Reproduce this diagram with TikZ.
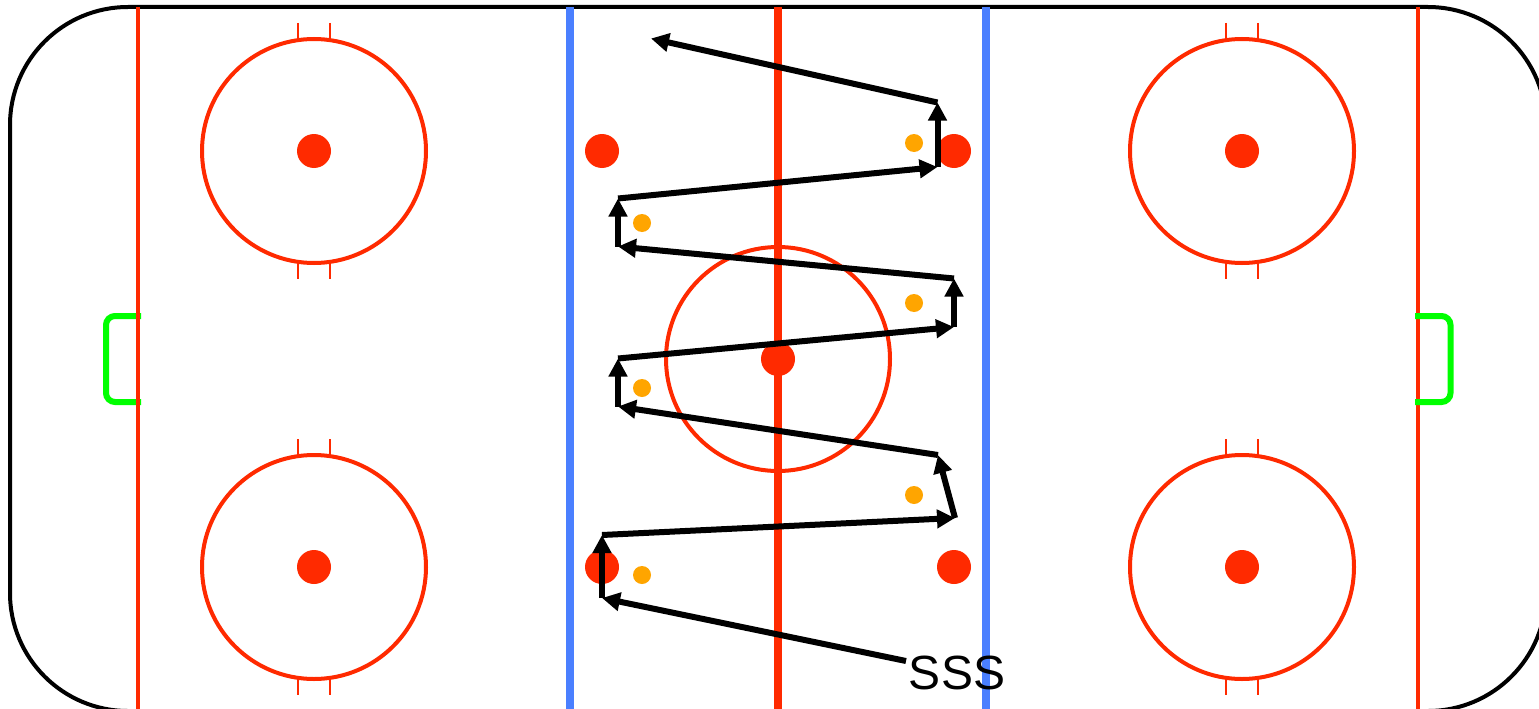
\documentclass[tikz,border=0pt]{standalone}
\usepackage{fontspec}
\setmainfont{Liberation Sans}
\usetikzlibrary{arrows.meta}
\definecolor{rinkred}{HTML}{FF2A00}
\definecolor{rinkblue}{HTML}{4A7FFF}
\definecolor{rinkgreen}{HTML}{00FF00}
\definecolor{puck}{HTML}{FFA500}
\tikzset{
  boards/.style={draw=black,line width=4pt,rounded corners=118pt},
  goalline/.style={draw=rinkred,line width=4pt},
  blueline/.style={draw=rinkblue,line width=8pt},
  centerline/.style={draw=rinkred,line width=8pt},
  ring/.style={draw=rinkred,line width=4pt},
  hash/.style={draw=rinkred,line width=2pt},
  spot/.style={fill=rinkred},
  puckdot/.style={fill=puck},
  crease/.style={draw=rinkgreen,line width=6pt,rounded corners=9pt},
  skate/.style={draw=black,line width=6pt,-{Triangle[length=18pt,width=18pt]}},
  labeltext/.style={font=\fontsize{48}{48}\selectfont,inner sep=0pt,text=black}
}
\begin{document}
\begin{tikzpicture}[x=1pt,y=-1pt]
\clip (0,0) rectangle (1539,709);
\fill[white] (0,0) rectangle (1539,709);
% boards
\draw[boards] (10,7) rectangle (1546,711);
% left crease under the goal line
\draw[crease] (141,316) -- (106,316) -- (106,402) -- (141,402);
% lines
\draw[goalline] (138,7) -- (138,709);
\draw[goalline] (1418,7) -- (1418,709);
\draw[blueline] (570,7) -- (570,709);
\draw[blueline] (986,7) -- (986,709);
\draw[centerline] (778,7) -- (778,709);
% right crease
\draw[crease] (1415,316) -- (1450.5,316) -- (1450.5,402) -- (1415,402);
% face-off circles
\foreach \cx in {314,1242}{
  \foreach \cy in {151,567}{
    \draw[ring] (\cx,\cy) circle[radius=112];
    \fill[spot] (\cx,\cy) circle[radius=17];
    \foreach \dx in {-16,16}{
      \draw[hash] (\cx+\dx,\cy-128) -- (\cx+\dx,\cy-112);
      \draw[hash] (\cx+\dx,\cy+112) -- (\cx+\dx,\cy+128);
    }
  }
}
\draw[ring] (778,359) circle[radius=112];
\fill[spot] (778,359) circle[radius=17];
% neutral-zone spots
\foreach \cx/\cy in {602/151,954/151,602/567,954/567}
  \fill[spot] (\cx,\cy) circle[radius=17];
% pucks
\foreach \cx/\cy in {914/143,642/223,914/303,642/388,914/495,642/575}
  \fill[puckdot] (\cx,\cy) circle[radius=9];
% waypoints
\coordinate (p0) at (906,661);
\coordinate (p1) at (602,598);
\coordinate (p2) at (602,535);
\coordinate (p3) at (955,518);
\coordinate (p4) at (938,455);
\coordinate (p5) at (618,406.5);
\coordinate (p6) at (618,358.5);
\coordinate (p7) at (954,327);
\coordinate (p8) at (954,278.5);
\coordinate (p9) at (618,246.5);
\coordinate (p10) at (618,198.5);
\coordinate (p11) at (937.5,167);
\coordinate (p12) at (937.5,102.5);
\coordinate (p13) at (651,38.5);
\foreach \a/\b in {p0/p1,p1/p2,p2/p3,p3/p4,p4/p5,p5/p6,p6/p7,p7/p8,p8/p9,p9/p10,p10/p11,p11/p12,p12/p13}
  \draw[skate] (\a) -- (\b);
\node[labeltext,anchor=base] (sss) at (957,689.5) {SSS};
\end{tikzpicture}
\end{document}
